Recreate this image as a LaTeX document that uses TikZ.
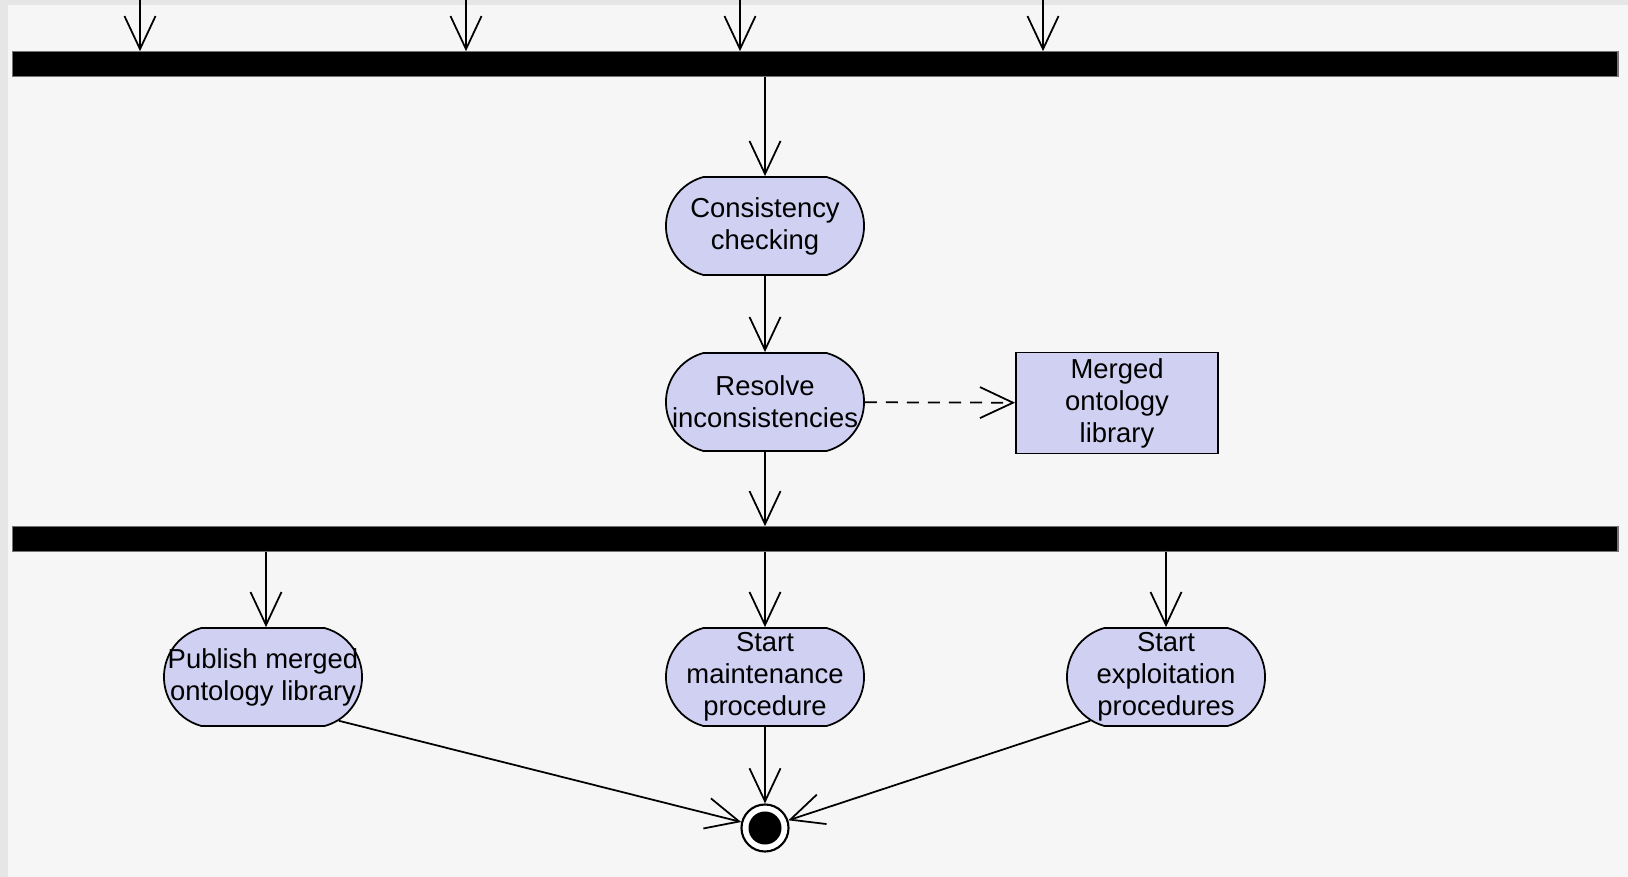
\documentclass[tikz,border=0pt]{standalone}
\usepackage{fontspec}
\setmainfont{Liberation Sans}
\usetikzlibrary{shapes.misc,arrows.meta,calc}

\definecolor{actfill}{RGB}{208,208,242}
\definecolor{bgfill}{RGB}{246,246,246}
\definecolor{rimfill}{RGB}{230,230,230}

\newcommand{\actln}[1]{\makebox[0pt]{#1}}

\begin{document}
\begin{tikzpicture}[x=0.01cm, y=-0.01cm,
	action/.style={draw, fill=actfill, line width=0.5pt, rounded rectangle, rounded rectangle arc length=150, minimum width=1.98cm, minimum height=0.98cm, inner sep=0pt, align=center, font=\fontsize{7.8}{9.1}\selectfont},
	object/.style={draw, fill=actfill, line width=0.5pt, minimum width=2.02cm, minimum height=1.01cm, inner sep=0pt, align=center, font=\fontsize{7.8}{9.1}\selectfont},
	bar/.style={fill=black, draw=black!55, line width=0.3pt, minimum width=16.05cm, minimum height=0.245cm, inner sep=0pt},
	final/.style={circle, draw, fill=white, line width=0.6pt, minimum size=0.47cm, inner sep=0pt},
	flow/.style={-{Straight Barb[length=0.33cm, width=0.31cm]}, line width=0.5pt}]

	\useasboundingbox (0,0) rectangle (1628,877);
	\fill[bgfill] (0,0) rectangle (1628,877);
	\fill[rimfill] (0,0) rectangle (1628,5);
	\fill[rimfill] (0,0) rectangle (8,877);

	\node[bar] (fork) at (815,64) {};
	\node[action] (check) at (765,226) {\actln{Consistency}\\\actln{checking}};
	\node[action] (resolve) at (765,402) {\actln{Resolve}\\\actln{inconsistencies}};
	\node[object] (merged) at (1117,403) {Merged\\ontology\\library};
	\node[bar] (split) at (815,539) {};
	\node[action] (publish) at (263,677) {\actln{Publish merged}\\\actln{ontology library}};
	\node[action] (maint) at (765,677) {\actln{Start}\\\actln{maintenance}\\\actln{procedure}};
	\node[action] (exploit) at (1166,677) {\actln{Start}\\\actln{exploitation}\\\actln{procedures}};
	\node[final] (final) at (765,828) {};
	\node[circle, fill=black, minimum size=0.33cm, inner sep=0pt] (finaldot) at (final) {};

	\begin{scope}[every path/.style={flow}]
		\foreach \x [count=\i] in {140,466,740,1043} {
			\coordinate (in\i) at (\x,0);
			\draw (in\i) -- (in\i |- fork.north);
		}
		\draw (fork.south -| check) -- (check);
		\draw (check) -- (resolve);
		\draw[dash pattern=on 0.12cm off 0.09cm] (resolve) -- (merged);
		\draw (resolve) -- (resolve |- split.north);
		\draw (split.south -| 266,0) -- (266,0 |- publish.north);
		\draw (split.south -| maint) -- (maint);
		\draw (split.south -| exploit) -- (exploit);
		\draw (publish.-30) -- (final);
		\draw (maint) -- (final);
		\draw (exploit.210) -- (final);
	\end{scope}

\end{tikzpicture}
\end{document}
